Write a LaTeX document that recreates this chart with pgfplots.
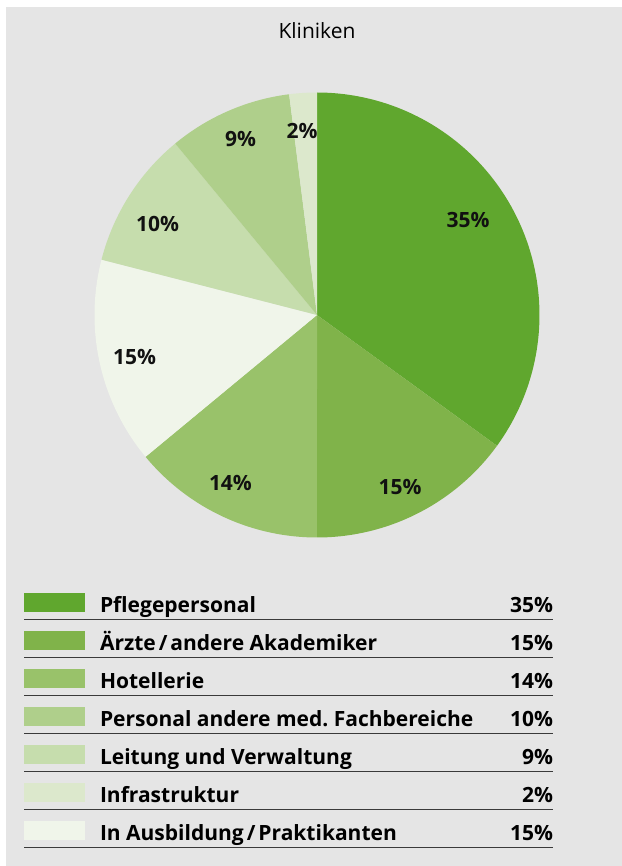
\documentclass[border=0pt]{standalone}
\usepackage{fontspec}
\setmainfont{Open Sans}
\usepackage{pgfplots}
\pgfplotsset{compat=1.18}
\frenchspacing

\definecolor{bg}{HTML}{E5E5E5}
\definecolor{rule}{HTML}{3A3A3A}
\definecolor{lbl}{HTML}{111111}
% slice / legend colours
\definecolor{pflege}{HTML}{60A72E}
\definecolor{aerzte}{HTML}{80B34A}
\definecolor{hotel}{HTML}{99C26A}
\definecolor{personal}{HTML}{AFCF8B}
\definecolor{leitung}{HTML}{C6DDAD}
\definecolor{infra}{HTML}{DCE8CC}
\definecolor{ausbild}{HTML}{F0F5EA}

\newcommand{\bigfont}{\fontsize{21bp}{24bp}\selectfont}
\newcommand{\sep}{\kern3bp/\kern3bp}

% one pie slice: #1 start (cumulative %), #2 end (cumulative %), #3 colour
\newcommand{\slice}[3]{%
  \addplot[fill=#3, draw=none, forget plot, domain=90-3.6*#2:90-3.6*#1,
    samples=90, variable=\t]
    ({cos(\t)}, {sin(\t)}) -- (axis cs:0,0) -- cycle;}

\begin{document}
\begin{tikzpicture}
\fill[white] (0,0) rectangle (622bp,866bp);
\fill[bg] (6bp,0) rectangle (622bp,859bp);

\begin{axis}[
    at={(317bp,551bp)}, anchor=center,
    width=445bp, height=445bp, scale only axis,
    xmin=-1, xmax=1, ymin=-1, ymax=1,
    hide axis, clip=false,
    title={Kliniken},
    title style={at={(0.5,1.109)}, anchor=base, font=\bigfont, inner sep=0pt},
    legend style={
        at={(-0.1584,-0.1034)}, anchor=north west,
        draw=none, fill=none, inner sep=0pt, outer sep=0pt,
        row sep=0pt, column sep=0pt,
        font=\bfseries\bigfont,
        cells={anchor=west},
        nodes={inner sep=0pt, text height=21bp, text depth=2bp},
    },
    legend image code/.code={
        \fill[#1, draw=none] (0bp,-9.5bp) rectangle (61bp,9.5bp);
        \draw[overlay, fill=none, line width=1bp, rule] (0bp,-16.5bp) -- (529bp,-16.5bp);
        \path[draw=none, fill=none] (0bp,-19bp) rectangle (76bp,19bp);
    },
]

% clockwise from the top: 35, 15, 14, 15, 10, 9, 2
\slice{0}{35}{pflege}
\slice{35}{50}{aerzte}
\slice{50}{64}{hotel}
\slice{64}{79}{ausbild}
\slice{79}{89}{leitung}
\slice{89}{98}{personal}
\slice{98}{100}{infra}

\begin{scope}[every node/.style={font=\bfseries\bigfont, text=lbl}]
\node at (axis cs:0.679,0.427) {35\%};
\node at (axis cs:0.373,-0.771) {15\%};
\node at (axis cs:-0.389,-0.757) {14\%};
\node at (axis cs:-0.820,-0.187) {15\%};
\node at (axis cs:-0.717,0.407) {10\%};
\node at (axis cs:-0.344,0.789) {9\%};
\node at (axis cs:-0.067,0.827) {2\%};
\end{scope}

\addlegendimage{fill=pflege}
\addlegendentry{\makebox[453bp][l]{Pflegepersonal\hfill 35\%}}
\addlegendimage{fill=aerzte}
\addlegendentry{\makebox[453bp][l]{Ärzte\sep andere Akademiker\hfill 15\%}}
\addlegendimage{fill=hotel}
\addlegendentry{\makebox[453bp][l]{Hotellerie\hfill 14\%}}
\addlegendimage{fill=personal}
\addlegendentry{\makebox[453bp][l]{Personal andere med. Fachbereiche\hfill 10\%}}
\addlegendimage{fill=leitung}
\addlegendentry{\makebox[453bp][l]{Leitung und Verwaltung\hfill 9\%}}
\addlegendimage{fill=infra}
\addlegendentry{\makebox[453bp][l]{Infrastruktur\hfill 2\%}}
\addlegendimage{fill=ausbild}
\addlegendentry{\makebox[453bp][l]{In Ausbildung\sep Praktikanten\hfill 15\%}}

\end{axis}
\end{tikzpicture}
\end{document}
